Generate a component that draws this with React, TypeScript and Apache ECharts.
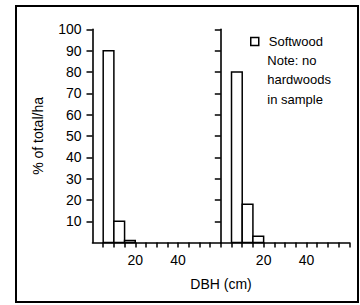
import React, { useEffect, useRef } from "react";
import * as echarts from "echarts";

// Histogram bins (DBH, cm)
const binStarts = [5, 10, 15];
const binEnds = [10, 15, 20];
// % of total/ha per bin, two panels
const leftValues = [90, 10, 1];
const rightValues = [80, 18, 3];
const yTickValues = [10, 20, 30, 40, 50, 60, 70, 80, 90, 100];
const xTickValues = [5, 10, 15, 20, 25, 30, 35, 40, 45, 50, 55, 60];
const xLabelValues = [20, 40];
const seriesName = "Softwood";
const noteLines = ["Note: no", "hardwoods", "in sample"];
const yName = "% of total/ha";
const xName = "DBH (cm)";

const FONT = "'Liberation Sans', Arial, sans-serif";

function toBins(values: number[]) {
  return values.map((v, i) => [binStarts[i], binEnds[i], v]);
}

export default function App() {
  const ref = useRef<HTMLDivElement>(null);
  useEffect(() => {
    if (!ref.current) return;
    const chart = echarts.init(ref.current, null, { renderer: "svg" });
    const axisLine = { show: true, lineStyle: { color: "#000", width: 1.6 } };
    const renderItem = (params: any, api: any) => {
      const x0 = api.value(0);
      const x1 = api.value(1);
      const y = api.value(2);
      const p0 = api.coord([x0, y]);
      const p1 = api.coord([x1, 0]);
      return {
        type: "rect",
        shape: { x: p0[0], y: p0[1], width: p1[0] - p0[0], height: p1[1] - p0[1] },
        style: { fill: "#fff", stroke: "#000", lineWidth: 1.5 },
      };
    };
    const xAxisBase = (gridIndex: number) => ({
      type: "value",
      gridIndex,
      min: 0,
      max: 60,
      interval: 5,
      splitLine: { show: false },
      axisLine,
      axisTick: { show: true, length: 5, customValues: xTickValues, lineStyle: { color: "#000", width: 1.5 } },
      axisLabel: {
        customValues: xLabelValues,
        color: "#000",
        fontFamily: FONT,
        fontSize: 14,
        margin: 10,
      },
    });
    const yAxisBase = (gridIndex: number, showLabels: boolean) => ({
      type: "value",
      gridIndex,
      min: 0,
      max: 100,
      interval: 10,
      splitLine: { show: false },
      axisLine,
      axisTick: { show: true, length: 6, customValues: yTickValues, lineStyle: { color: "#000", width: 1.5 } },
      axisLabel: {
        show: showLabels,
        customValues: yTickValues,
        color: "#000",
        fontFamily: FONT,
        fontSize: 14,
        margin: 11,
      },
    });
    chart.setOption({
      animation: false,
      backgroundColor: "#fff",
      grid: [
        { left: 92.5, top: 29.3, width: 128.3, height: 213.3 },
        { left: 220.8, top: 29.3, width: 128.5, height: 213.3 },
      ],
      xAxis: [xAxisBase(0), xAxisBase(1)],
      yAxis: [
        {
          ...yAxisBase(0, true),
          name: yName,
          nameLocation: "middle",
          nameGap: 48,
          nameRotate: 90,
          nameTextStyle: { color: "#000", fontFamily: FONT, fontSize: 14 },
        },
        yAxisBase(1, false),
      ],
      legend: {
        left: 250,
        top: 35,
        padding: 0,
        itemWidth: 8,
        itemHeight: 8,
        data: [
          {
            name: seriesName,
            icon: "rect",
            itemStyle: { color: "#fff", borderColor: "#000", borderWidth: 1.5 },
          },
        ],
        textStyle: { color: "#000", fontFamily: FONT, fontSize: 13, padding: [0, 0, 0, 5] },
      },
      graphic: [
        {
          type: "rect",
          shape: { x: 16, y: 6, width: 342, height: 296 },
          style: { fill: "none", stroke: "#000", lineWidth: 2 },
          silent: true,
        },
        {
          type: "text",
          x: 267.3,
          y: 50.3,
          style: {
            text: noteLines.join("\n"),
            fill: "#000",
            font: `13px ${FONT}`,
            lineHeight: 19.5,
            verticalAlign: "top",
            align: "left",
          },
        },
        {
          type: "text",
          x: 221,
          y: 283.5,
          style: {
            text: xName,
            fill: "#000",
            font: `14px ${FONT}`,
            align: "center",
            verticalAlign: "middle",
          },
        },
      ],
      series: [
        {
          name: seriesName,
          type: "custom",
          xAxisIndex: 0,
          yAxisIndex: 0,
          renderItem,
          itemStyle: { color: "#fff", borderColor: "#000", borderWidth: 1.5 },
          data: toBins(leftValues),
        },
        {
          name: seriesName,
          type: "custom",
          xAxisIndex: 1,
          yAxisIndex: 1,
          renderItem,
          itemStyle: { color: "#fff", borderColor: "#000", borderWidth: 1.5 },
          data: toBins(rightValues),
        },
      ],
    });
    return () => chart.dispose();
  }, []);
  return (
    <div
      ref={ref}
      style={{ position: "fixed", left: 0, top: 0, width: 360, height: 305, background: "#fff" }}
    />
  );
}
